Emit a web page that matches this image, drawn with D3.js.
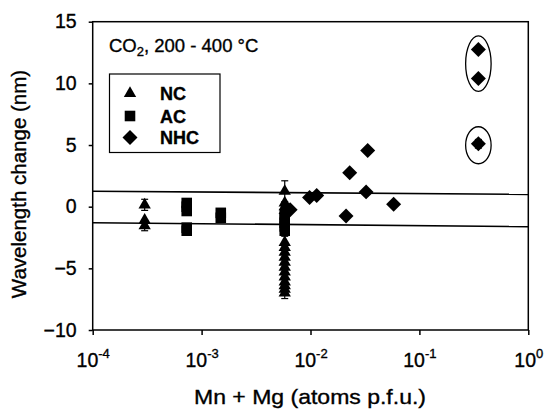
<!DOCTYPE html>
<html>
<head>
<meta charset="utf-8">
<script src="https://cdn.jsdelivr.net/npm/d3@7"></script>
<style>
  body { margin: 0; background: #fff; }
  svg { display: block; font-family: "Liberation Sans", Arial, sans-serif; }
  svg text { stroke: #000; stroke-width: 0.35px; }
</style>
</head>
<body>
<svg width="545" height="411"></svg>
<script>
// data: [Mn+Mg, wavelength change]
const ncPoints = [
  [3.0e-4, 0.15], [3.0e-4, -1.1], [3.0e-4, -1.55],
  [5.8e-3, 1.25], [5.8e-3, 0.3], [5.8e-3, 0.0], [5.8e-3, -0.3],
  [5.8e-3, -2.9], [5.8e-3, -3.3], [5.8e-3, -3.7], [5.8e-3, -4.1], [5.8e-3, -4.5],
  [5.8e-3, -4.9], [5.8e-3, -5.3], [5.8e-3, -5.7], [5.8e-3, -6.1], [5.8e-3, -6.4],
  [5.8e-3, -6.7], [5.8e-3, -7.0]
];
const acPoints = [
  [7.3e-4, 0.3], [7.3e-4, 0.0], [7.3e-4, -0.35], [7.3e-4, -1.7], [7.3e-4, -1.95],
  [1.5e-3, -0.5], [1.5e-3, -0.9],
  [5.8e-3, -0.7], [5.8e-3, -1.0], [5.8e-3, -1.3], [5.8e-3, -1.6], [5.8e-3, -1.95]
];
const nhcPoints = [
  [6.5e-3, -0.25], [0.0098, 0.75], [0.0114, 0.9], [0.0212, -0.75], [0.0229, 2.75],
  [0.0324, 1.2], [0.0335, 4.55], [0.058, 0.2],
  [0.348, 12.75], [0.348, 10.4], [0.348, 5.1]
];
// [x, y, half-range]
const errorBars = [
  [3.0e-4, 0.15, 0.45], [3.0e-4, -1.55, 0.4],
  [5.8e-3, 1.25, 0.85], [5.8e-3, -7.0, 0.45], [5.8e-3, -1.95, 0.45],
  [0.348, 5.1, 0.35]
];
// the two horizontal band lines: [y at left, y at right]
const bandLines = [[1.25, 1.0], [-1.3, -1.62]];
// circled groups: [x, y, half-height in nm]
const circled = [[0.348, 11.6, 2.25], [0.348, 4.98, 1.5]];

const yTicks = [-10, -5, 0, 5, 10, 15];
const xTicks = [1e-4, 1e-3, 1e-2, 1e-1, 1];
const xTickExp = ["-4", "-3", "-2", "-1", "0"];

const svg = d3.select("svg");
const margin = {top: 21.7, right: 16.7, bottom: 81, left: 92.7};
const W = 545, H = 411;

const x = d3.scaleLog().domain([1e-4, 1]).range([margin.left, W - margin.right]);
const y = d3.scaleLinear().domain([-10, 15]).range([H - margin.bottom, margin.top]);

// y axis
const yAxis = svg.append("g")
  .attr("transform", `translate(${margin.left},0)`)
  .call(d3.axisLeft(y).tickValues(yTicks).tickSize(4).tickPadding(12));
yAxis.select(".domain").remove();
yAxis.selectAll("line").attr("stroke", "#000").attr("stroke-width", 1.5);
yAxis.selectAll("text").attr("font-size", 19.5).attr("fill", "#000")
  .attr("font-family", "Liberation Sans, Arial, sans-serif");

// x axis
const xAxis = svg.append("g")
  .attr("transform", `translate(0,${H - margin.bottom})`)
  .call(d3.axisBottom(x).tickValues(xTicks).tickSize(5).tickFormat(""));
xAxis.select(".domain").remove();
xAxis.selectAll("line").attr("stroke", "#000").attr("stroke-width", 1.5);
xAxis.selectAll(".tick").each(function(d, i) {
  const t = d3.select(this).select("text")
    .attr("y", 36.5).attr("dy", 0)
    .attr("font-size", 19.5).attr("fill", "#000")
    .attr("font-family", "Liberation Sans, Arial, sans-serif")
    .attr("text-anchor", "middle");
  t.text("10");
  t.append("tspan").attr("dy", -8.5).attr("font-size", 13).text(xTickExp[i]);
});

// frame
svg.append("rect")
  .attr("x", margin.left).attr("y", margin.top)
  .attr("width", W - margin.right - margin.left)
  .attr("height", H - margin.bottom - margin.top)
  .attr("fill", "none").attr("stroke", "#000").attr("stroke-width", 1.5);

// band lines
svg.append("g").selectAll("line")
  .data(bandLines).join("line")
  .attr("x1", x(1e-4)).attr("x2", x(1))
  .attr("y1", d => y(d[0])).attr("y2", d => y(d[1]))
  .attr("stroke", "#000").attr("stroke-width", 1.6);

// ellipses
svg.append("g").selectAll("ellipse")
  .data(circled).join("ellipse")
  .attr("cx", d => x(d[0])).attr("cy", d => y(d[1]))
  .attr("rx", d => x(d[0] * Math.pow(10, 0.117)) - x(d[0]))
  .attr("ry", d => y(d[1] - d[2]) - y(d[1]))
  .attr("fill", "none").attr("stroke", "#000").attr("stroke-width", 1.3);

// error bars
const eb = svg.append("g").attr("stroke", "#000").attr("stroke-width", 1.2);
errorBars.forEach(([ex, ey, e]) => {
  eb.append("line").attr("x1", x(ex)).attr("x2", x(ex)).attr("y1", y(ey - e)).attr("y2", y(ey + e));
  [ey - e, ey + e].forEach(v => {
    eb.append("line").attr("x1", x(ex) - 3.5).attr("x2", x(ex) + 3.5).attr("y1", y(v)).attr("y2", y(v));
  });
});

const tri = d3.symbol().type(d3.symbolTriangle).size(66);
const sq = d3.symbol().type(d3.symbolSquare).size(112);
const dia = d3.symbol().type(d3.symbolSquare).size(112);

const pts = svg.append("g").attr("fill", "#000");
pts.selectAll(".nc").data(ncPoints).join("path").attr("class", "nc")
  .attr("d", tri).attr("transform", d => `translate(${x(d[0])},${y(d[1])})`);
pts.selectAll(".ac").data(acPoints).join("path").attr("class", "ac")
  .attr("d", sq).attr("transform", d => `translate(${x(d[0])},${y(d[1])})`);
pts.selectAll(".nhc").data(nhcPoints).join("path").attr("class", "nhc")
  .attr("d", dia).attr("transform", d => `translate(${x(d[0])},${y(d[1])}) rotate(45)`);

// annotation
const note = svg.append("text").attr("x", 109).attr("y", 51.7)
  .attr("font-size", 18.5).attr("fill", "#000");
note.append("tspan").text("CO");
note.append("tspan").attr("dy", 4).attr("font-size", 13).text("2");
note.append("tspan").attr("dy", -4).text(", 200 - 400 °C");

// legend
svg.append("rect").attr("x", 109.5).attr("y", 74).attr("width", 110.5).attr("height", 78.5)
  .attr("fill", "#fff").attr("stroke", "#000").attr("stroke-width", 1.2);
const legendItems = [["NC", tri, 0, 93.5], ["AC", sq, 0, 116], ["NHC", dia, 45, 137.5]];
legendItems.forEach(([label, sym, rot, ly]) => {
  svg.append("path").attr("d", sym).attr("fill", "#000")
    .attr("transform", `translate(130,${ly}) rotate(${rot})`);
  svg.append("text").attr("x", 160).attr("y", ly + 6.5)
    .attr("font-size", 18).attr("font-weight", "bold").attr("fill", "#000").text(label);
});

// axis titles
svg.append("text").attr("x", 310).attr("y", 404).attr("text-anchor", "middle")
  .attr("font-size", 21).attr("fill", "#000")
  .attr("textLength", 232).attr("lengthAdjust", "spacingAndGlyphs")
  .text("Mn + Mg (atoms p.f.u.)");
svg.append("text").attr("transform", "translate(26,184) rotate(-90)")
  .attr("text-anchor", "middle").attr("font-size", 20.5).attr("fill", "#000")
  .text("Wavelength change (nm)");
</script>
</body>
</html>
